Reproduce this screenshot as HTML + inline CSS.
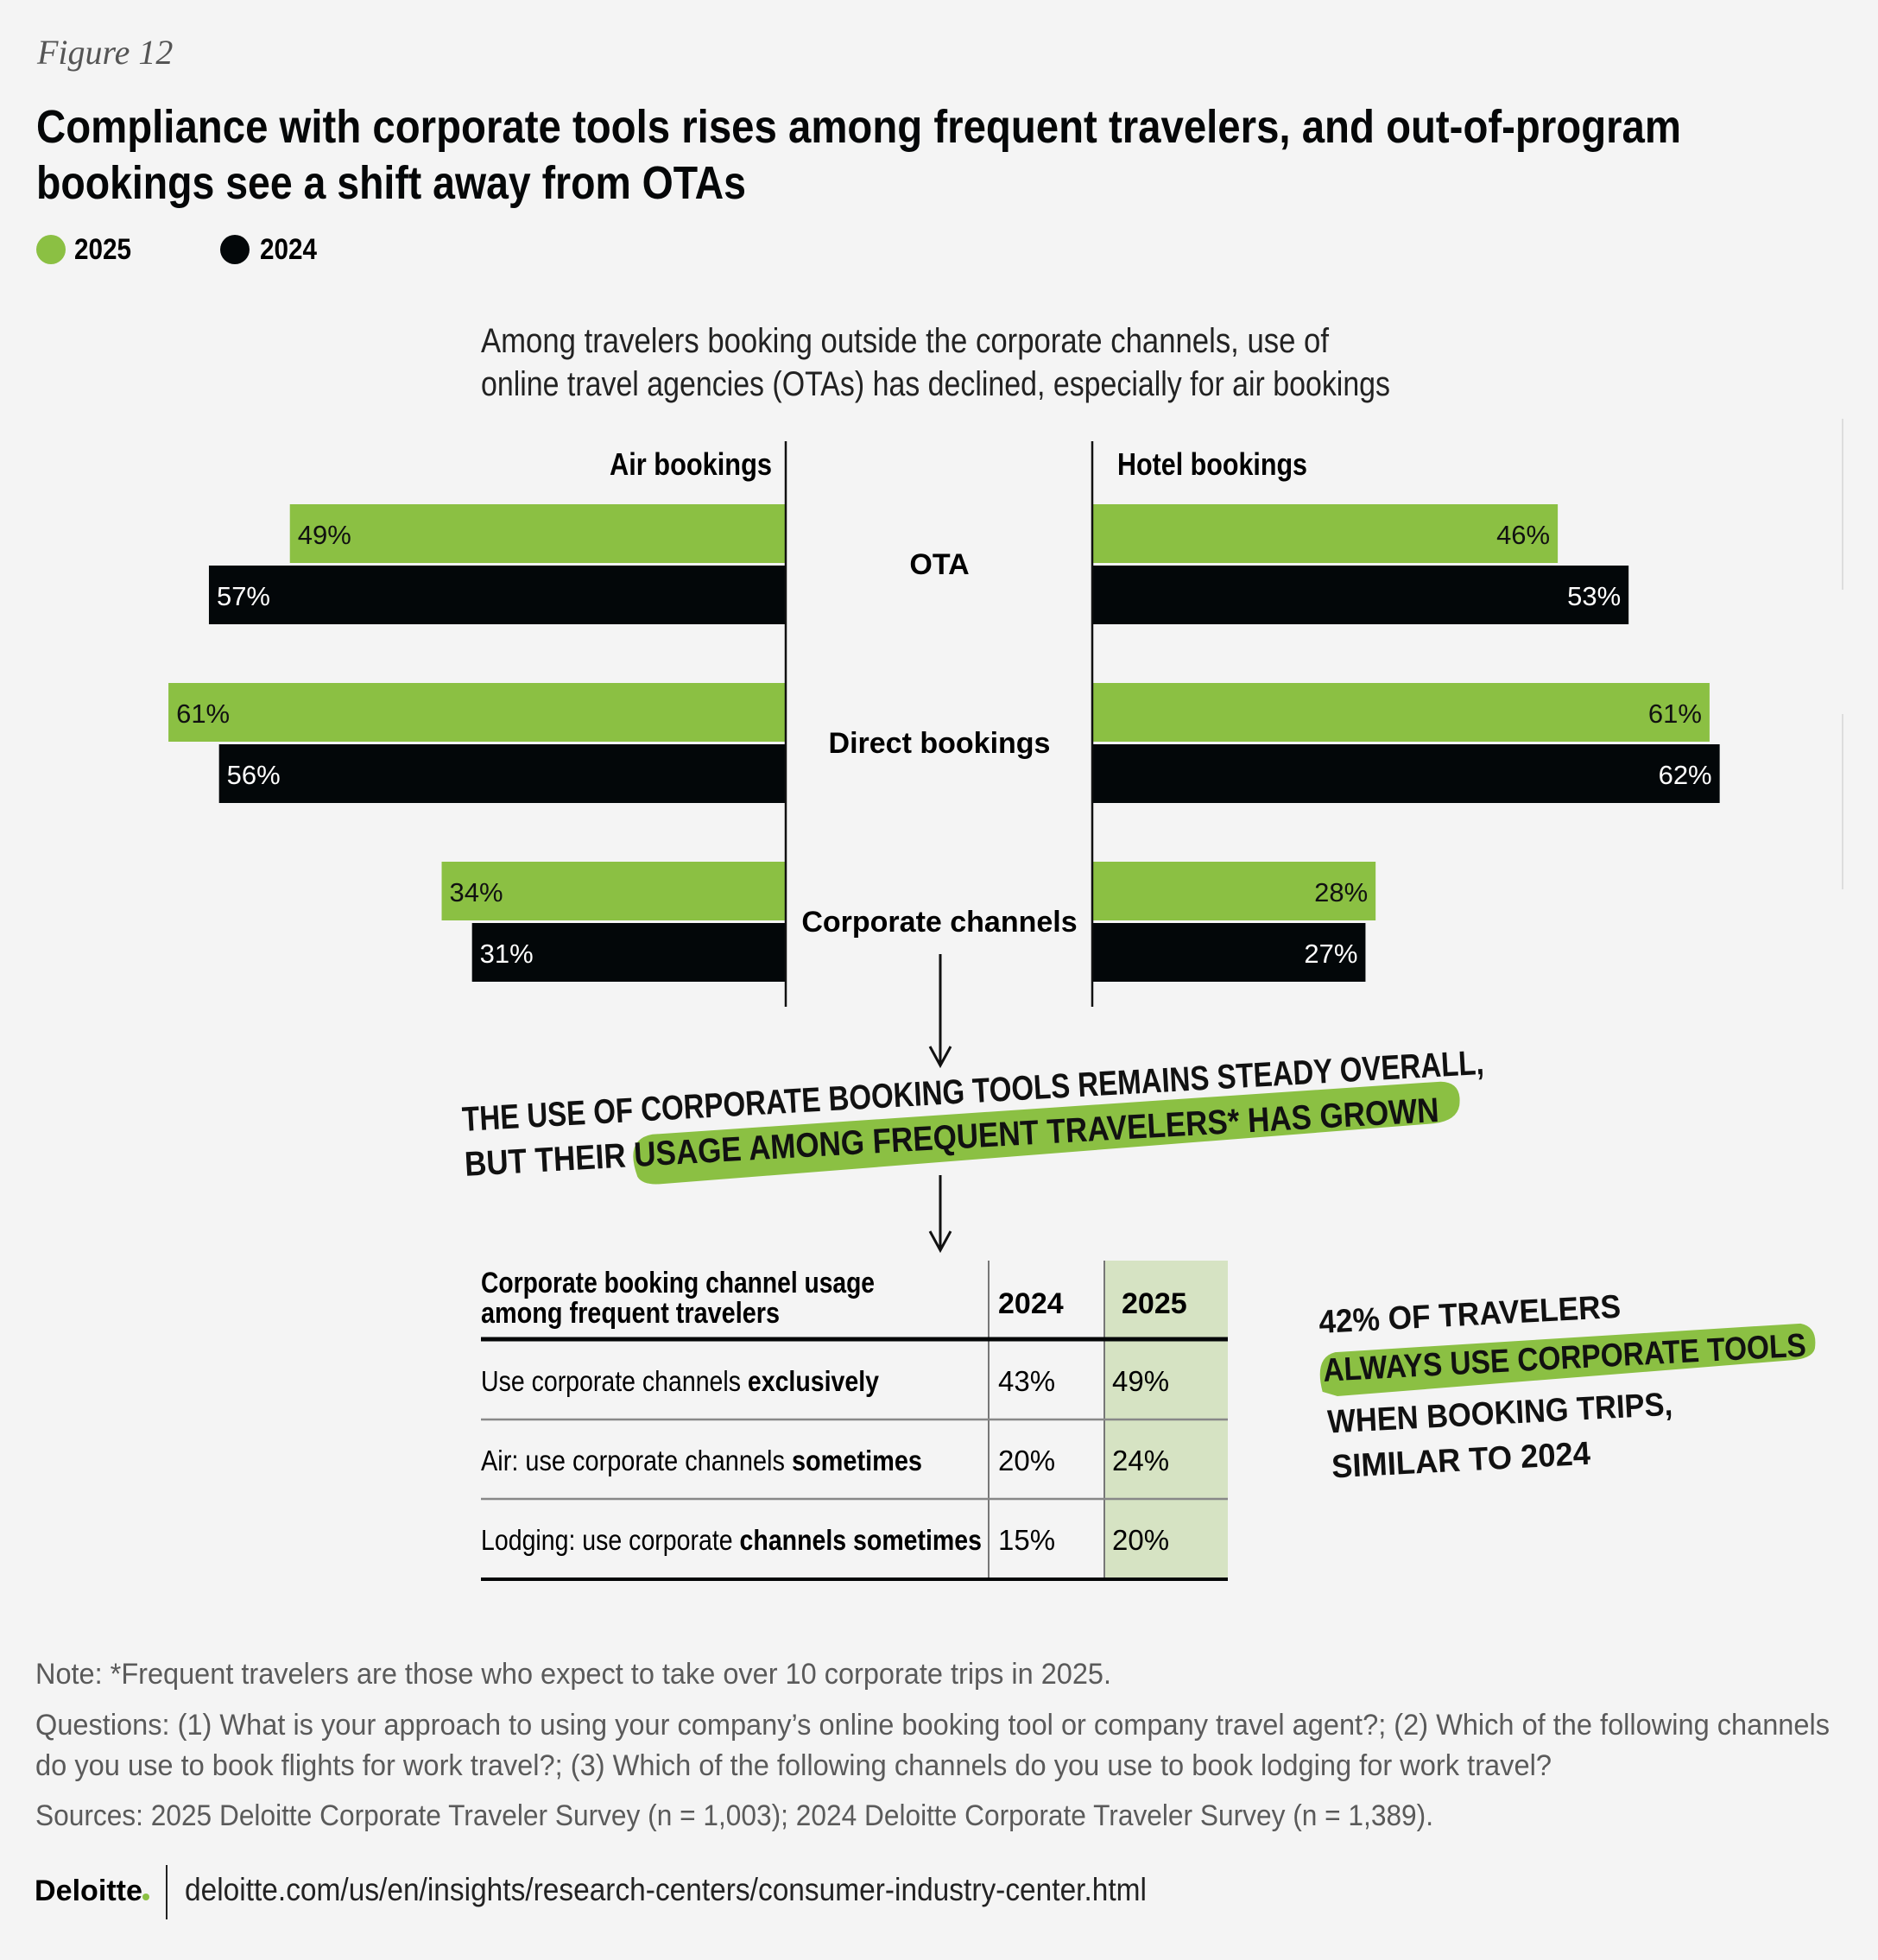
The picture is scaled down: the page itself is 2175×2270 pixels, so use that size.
<!DOCTYPE html>
<html><head><meta charset="utf-8"><style>
html,body{margin:0;padding:0;background:#f4f4f4;}
svg{display:block;font-family:"Liberation Sans Narrow","Liberation Sans",sans-serif;}
.b{font-weight:bold;}
</style></head><body>
<svg id="chart" width="2175" height="2270" viewBox="0 0 2175 2270" xmlns="http://www.w3.org/2000/svg">
<rect x="0" y="0" width="2175" height="2270" fill="#f4f4f4"/>
<text x="43" y="74" font-family="Liberation Serif, serif" font-style="italic" font-size="40" fill="#555">Figure 12</text>
<g font-family="Liberation Sans, sans-serif" font-weight="bold" font-size="54" fill="#050708">
<text x="42" y="165" textLength="1905" lengthAdjust="spacingAndGlyphs">Compliance with corporate tools rises among frequent travelers, and out-of-program</text>
<text x="42" y="230" textLength="822" lengthAdjust="spacingAndGlyphs">bookings see a shift away from OTAs</text>
</g>
<g>
<ellipse cx="59" cy="289" rx="17" ry="17" fill="#8bc043"/>
<text x="86" y="300" class="b" font-size="34" textLength="66" lengthAdjust="spacingAndGlyphs">2025</text>
<ellipse cx="272" cy="289" rx="17" ry="17" fill="#030709"/>
<text x="301" y="300" class="b" font-size="34" textLength="66" lengthAdjust="spacingAndGlyphs">2024</text>
</g>
<g font-size="40" fill="#222">
<text x="557" y="408" textLength="982" lengthAdjust="spacingAndGlyphs">Among travelers booking outside the corporate channels, use of</text>
<text x="557" y="458" textLength="1053" lengthAdjust="spacingAndGlyphs">online travel agencies (OTAs) has declined, especially for air bookings</text>
</g>
<line x1="2134" y1="485" x2="2134" y2="683" stroke="#ddd" stroke-width="2"/>
<line x1="2134" y1="827" x2="2134" y2="1030" stroke="#ddd" stroke-width="2"/>
<text x="894" y="550" text-anchor="end" class="b" font-size="36" textLength="188" lengthAdjust="spacingAndGlyphs">Air bookings</text>
<text x="1294" y="550" class="b" font-size="36" textLength="220" lengthAdjust="spacingAndGlyphs">Hotel bookings</text>
<g id="bars"></g>
<line x1="910" y1="511" x2="910" y2="1166" stroke="#111" stroke-width="2.5"/>
<line x1="1265" y1="511" x2="1265" y2="1166" stroke="#111" stroke-width="2.5"/>
<g stroke="#111" stroke-width="3" fill="none">
<path d="M1089 1105 L1089 1232 M1077 1212 L1089 1234 L1101 1212"/>
</g>
<g transform="rotate(-3.2 536 1310)">
<path d="M735 1374 Q722 1330 755 1326 L1670 1316 Q1695 1318 1690 1345 Q1686 1362 1660 1364 L760 1384 Q740 1384 735 1374 Z" fill="#8bc043"/>
<text x="536" y="1310" class="b" font-size="40" textLength="1185" lengthAdjust="spacingAndGlyphs" fill="#111">THE USE OF CORPORATE BOOKING TOOLS REMAINS STEADY OVERALL,</text>
<text x="536" y="1362" class="b" font-size="40" textLength="1130" lengthAdjust="spacingAndGlyphs" fill="#111">BUT THEIR USAGE AMONG FREQUENT TRAVELERS* HAS GROWN</text>
</g>
<g stroke="#111" stroke-width="3" fill="none">
<path d="M1089 1361 L1089 1446 M1077 1426 L1089 1448 L1101 1426"/>
</g>
<g>
<rect x="1279" y="1460" width="143" height="369" fill="#d6e3c3"/>
<line x1="1145" y1="1460" x2="1145" y2="1829" stroke="#777" stroke-width="2"/>
<line x1="1279" y1="1460" x2="1279" y2="1829" stroke="#777" stroke-width="2"/>
<line x1="557" y1="1551" x2="1422" y2="1551" stroke="#050708" stroke-width="5"/>
<line x1="557" y1="1644" x2="1422" y2="1644" stroke="#888" stroke-width="2.5"/>
<line x1="557" y1="1736" x2="1422" y2="1736" stroke="#888" stroke-width="2.5"/>
<line x1="557" y1="1829" x2="1422" y2="1829" stroke="#050708" stroke-width="4"/>
<text x="557" y="1497" class="b" font-size="34" textLength="456" lengthAdjust="spacingAndGlyphs">Corporate booking channel usage</text>
<text x="557" y="1532" class="b" font-size="34" textLength="346" lengthAdjust="spacingAndGlyphs">among frequent travelers</text>
<text x="1156" y="1521" class="b" font-size="34">2024</text>
<text x="1299" y="1521" class="b" font-size="34">2025</text>
<text x="557" y="1611" font-size="33" textLength="461" lengthAdjust="spacingAndGlyphs">Use corporate channels <tspan font-weight="bold">exclusively</tspan></text>
<text x="557" y="1703" font-size="33" textLength="511" lengthAdjust="spacingAndGlyphs">Air: use corporate channels <tspan font-weight="bold">sometimes</tspan></text>
<text x="557" y="1795" font-size="33" textLength="580" lengthAdjust="spacingAndGlyphs">Lodging: use corporate <tspan font-weight="bold">channels sometimes</tspan></text>
<text x="1156" y="1611" font-size="33">43%</text><text x="1288" y="1611" font-size="33">49%</text>
<text x="1156" y="1703" font-size="33">20%</text><text x="1288" y="1703" font-size="33">24%</text>
<text x="1156" y="1795" font-size="33">15%</text><text x="1288" y="1795" font-size="33">20%</text>
</g>
<g fill="#111" class="b" font-size="38" transform="rotate(-3 1528 1542)">
<path d="M1528 1612 Q1520 1572 1545 1567 L2085 1562 Q2105 1567 2100 1592 Q2096 1604 2070 1604 L1545 1618 Z" fill="#8bc043"/>
<text x="1528" y="1544" textLength="350" lengthAdjust="spacingAndGlyphs">42% OF TRAVELERS</text>
<text x="1530" y="1600" textLength="560" lengthAdjust="spacingAndGlyphs">ALWAYS USE CORPORATE TOOLS</text>
<text x="1532" y="1660" textLength="400" lengthAdjust="spacingAndGlyphs">WHEN BOOKING TRIPS,</text>
<text x="1534" y="1712" textLength="300" lengthAdjust="spacingAndGlyphs">SIMILAR TO 2024</text>
</g>
<g font-size="34" fill="#5a5a5a">
<text x="41" y="1950" textLength="1246" lengthAdjust="spacingAndGlyphs">Note: *Frequent travelers are those who expect to take over 10 corporate trips in 2025.</text>
<text x="41" y="2009" textLength="2078" lengthAdjust="spacingAndGlyphs">Questions: (1) What is your approach to using your company’s online booking tool or company travel agent?; (2) Which of the following channels</text>
<text x="41" y="2056" textLength="1756" lengthAdjust="spacingAndGlyphs">do you use to book flights for work travel?; (3) Which of the following channels do you use to book lodging for work travel?</text>
<text x="41" y="2114" textLength="1619" lengthAdjust="spacingAndGlyphs">Sources: 2025 Deloitte Corporate Traveler Survey (n = 1,003); 2024 Deloitte Corporate Traveler Survey (n = 1,389).</text>
</g>
<text x="40" y="2201" font-family="Liberation Sans, sans-serif" font-weight="bold" font-size="34" fill="#000" textLength="125" lengthAdjust="spacingAndGlyphs">Deloitte</text>
<circle cx="169" cy="2197" r="4" fill="#8bc043"/>
<line x1="193" y1="2160" x2="193" y2="2223" stroke="#222" stroke-width="2"/>
<text x="214" y="2201" font-size="37" fill="#222" textLength="1114" lengthAdjust="spacingAndGlyphs">deloitte.com/us/en/insights/research-centers/consumer-industry-center.html</text>
</svg>
<script>
const categories = ["OTA", "Direct bookings", "Corporate channels"];
const air2025 = [49, 61, 34];
const air2024 = [57, 56, 31];
const hotel2025 = [46, 61, 28];
const hotel2024 = [53, 62, 27];

const NS = "http://www.w3.org/2000/svg";
const g = document.getElementById("bars");
const leftX = 910, rightX = 1265, pxPer = 11.72;
const groupTop = 584, groupStep = 207, barH = 68, barGap = 71;
function xLen(v){ return v * pxPer; }
function yBar(i, s){ return groupTop + i * groupStep + s * barGap; }
function mk(tag, attrs){ const e = document.createElementNS(NS, tag); for (const k in attrs) e.setAttribute(k, attrs[k]); return e; }
function bar(side, i, s, v, name){
  const w = xLen(v), y = yBar(i, s);
  const x = side === "left" ? leftX - w : rightX;
  const r = mk("rect", {x: x, y: y, width: w, height: barH, fill: s === 0 ? "#8bc043" : "#030709"});
  
  
  g.appendChild(r);
  const t = mk("text", {y: y + barH/2 + 12, "font-size": 31, fill: s === 0 ? "#111" : "#fff"});
  if (side === "left") { t.setAttribute("x", x + 9); } else { t.setAttribute("x", x + w - 9); t.setAttribute("text-anchor", "end"); }
  t.textContent = v + "%";
  
  
  g.appendChild(t);
}
categories.forEach((c, i) => {
  bar("left", i, 0, air2025[i], "air-2025-bar");
  bar("left", i, 1, air2024[i], "air-2024-bar");
  bar("right", i, 0, hotel2025[i], "hotel-2025-bar");
  bar("right", i, 1, hotel2024[i], "hotel-2024-bar");
  const t = mk("text", {x: 1088, y: yBar(i, 0) + barH + 13, "text-anchor": "middle", "font-size": 34, "font-weight": "bold"});
  t.textContent = c;
  
  
  g.appendChild(t);
});
</script>
</body></html>
